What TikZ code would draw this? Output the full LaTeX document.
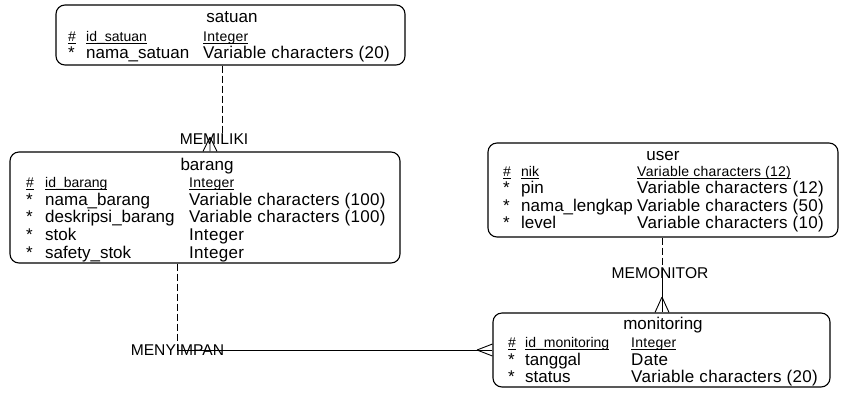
\documentclass[tikz,border=0pt]{standalone}
\usepackage{fontspec}
\setmainfont{Liberation Sans}
\newfontfamily\typefont[LetterSpace=1.8]{Liberation Sans}
\usetikzlibrary{calc}
% underline set close to the baseline, as for key attributes
\newcommand\keyul[1]{\setbox0=\hbox{#1}\rlap{\rule[-2.4pt]{\wd0}{0.7pt}}\box0}
\begin{document}
\begin{tikzpicture}[x=1pt,y=-1pt,
  entity/.style={draw=black, line width=1.1pt, rounded corners=9pt, inner sep=0pt},
  etitle/.style={anchor=base, inner sep=0pt, font=\fontsize{17}{18}\selectfont},
  attr/.style={anchor=base west, inner sep=0pt, font=\fontsize{17}{18}\selectfont},
  dtype/.style={attr, font=\fontsize{17}{18}\typefont},
  keyattr/.style={anchor=base west, inner sep=0pt, font=\fontsize{14}{15}\selectfont},
  keytype/.style={keyattr, font=\fontsize{14}{15}\typefont},
  rel/.style={inner sep=0pt, font=\fontsize{15.6}{16}\selectfont},
  link/.style={line width=0.9pt},
  optlink/.style={link, dash pattern=on 7pt off 3pt},
]
\useasboundingbox (0,0) rectangle (841,392);

% ---------------- entities ----------------
\node[entity, minimum width=349pt, minimum height=60pt]  (satuan)     at (230.5,35)  {};
\node[entity, minimum width=390pt, minimum height=111pt] (barang)     at (205,207.5) {};
\node[entity, minimum width=350pt, minimum height=94pt]  (user)       at (663,190)   {};
\node[entity, minimum width=337pt, minimum height=74pt]  (monitoring) at (661.5,350) {};

% satuan
\node[etitle] (satuan-t) at (232,22) {satuan};
\node[keyattr] (satuan-k0) at (68,41) {\keyul{\#}};
\node[keyattr] (satuan-k1) at (86,41) {\keyul{id\_satuan}};
\node[keytype] (satuan-k2) at (203,41) {\keyul{Integer}};
\node[attr] (satuan-a0) at (68,58) {*};
\node[attr] (satuan-a1) at (86,58) {nama\_satuan};
\node[dtype] (satuan-a2) at (203,58) {Variable characters (20)};

% barang
\node[etitle] (barang-t) at (207,170) {barang};
\node[keyattr] (barang-k0) at (26,187) {\keyul{\#}};
\node[keyattr] (barang-k1) at (45,187) {\keyul{id\_barang}};
\node[keytype] (barang-k2) at (189,187) {\keyul{Integer}};
\node[attr] (barang-a0) at (26,205) {*};
\node[attr] (barang-a1) at (45,205) {nama\_barang};
\node[dtype] (barang-a2) at (189,205) {Variable characters (100)};
\node[attr] (barang-b0) at (26,222) {*};
\node[attr] (barang-b1) at (45,222) {deskripsi\_barang};
\node[dtype] (barang-b2) at (189,222) {Variable characters (100)};
\node[attr] (barang-c0) at (26,240) {*};
\node[attr] (barang-c1) at (45,240) {stok};
\node[dtype] (barang-c2) at (189,240) {Integer};
\node[attr] (barang-d0) at (26,258) {*};
\node[attr] (barang-d1) at (45,258) {safety\_stok};
\node[dtype] (barang-d2) at (189,258) {Integer};

% user
\node[etitle] (user-t) at (663,160) {user};
\node[keyattr] (user-k0) at (503,176) {\keyul{\#}};
\node[keyattr] (user-k1) at (521,176) {\keyul{nik}};
\node[keytype] (user-k2) at (637,176) {\keyul{Variable characters (12)}};
\node[attr] (user-a0) at (503,193) {*};
\node[attr] (user-a1) at (521,193) {pin};
\node[dtype] (user-a2) at (637,193) {Variable characters (12)};
\node[attr] (user-b0) at (503,211) {*};
\node[attr] (user-b1) at (521,211) {nama\_lengkap};
\node[dtype] (user-b2) at (637,211) {Variable characters (50)};
\node[attr] (user-c0) at (503,228) {*};
\node[attr] (user-c1) at (521,228) {level};
\node[dtype] (user-c2) at (637,228) {Variable characters (10)};

% monitoring
\node[etitle] (monitoring-t) at (663,329) {monitoring};
\node[keyattr] (monitoring-k0) at (508,347) {\keyul{\#}};
\node[keyattr] (monitoring-k1) at (525,347) {\keyul{id\_monitoring}};
\node[keytype] (monitoring-k2) at (631,347) {\keyul{Integer}};
\node[attr] (monitoring-a0) at (508,365) {*};
\node[attr] (monitoring-a1) at (525,365) {tanggal};
\node[dtype] (monitoring-a2) at (631,365) {Date};
\node[attr] (monitoring-b0) at (508,382) {*};
\node[attr] (monitoring-b1) at (525,382) {status};
\node[dtype] (monitoring-b2) at (631,382) {Variable characters (20)};

% ---------------- relationships ----------------
% MEMILIKI: satuan (one) -- barang (many)
\node[rel] (memiliki) at (214,139) {MEMILIKI};
\coordinate (memiliki-up) at (222,133);
\coordinate (memiliki-cf) at (210,137);
\draw[optlink] (memiliki-up |- satuan.south) -- (memiliki-up);
\draw[link] (memiliki-cf) -- (memiliki-cf |- barang.north)
  (memiliki-cf) -- ([xshift=-7pt]memiliki-cf |- barang.north)
  (memiliki-cf) -- ([xshift=7pt]memiliki-cf |- barang.north);

% MENYIMPAN: barang (one) -- monitoring (many)
\node[rel] (menyimpan) at (177.5,350) {MENYIMPAN};
\coordinate (menyimpan-j) at (177,350);
\coordinate (menyimpan-cf) at (477,350);
\draw[optlink] (menyimpan-j |- barang.south) -- (menyimpan-j);
\draw[link] (menyimpan-j) -- (menyimpan-j -| monitoring.west);
\draw[link] (menyimpan-cf) -- ([yshift=-6pt]menyimpan-cf -| monitoring.west)
  (menyimpan-cf) -- ([yshift=6pt]menyimpan-cf -| monitoring.west);

% MEMONITOR: user (one) -- monitoring (many)
\node[rel] (memonitor) at (660,273) {MEMONITOR};
\coordinate (memonitor-j) at (662,273);
\coordinate (memonitor-cf) at (662,297);
\draw[optlink] (memonitor-j |- user.south) -- (memonitor-j);
\draw[link] (memonitor-j) -- (memonitor-j |- monitoring.north);
\draw[link] (memonitor-cf) -- ([xshift=-7pt]memonitor-cf |- monitoring.north)
  (memonitor-cf) -- ([xshift=7pt]memonitor-cf |- monitoring.north);
\end{tikzpicture}
\end{document}
